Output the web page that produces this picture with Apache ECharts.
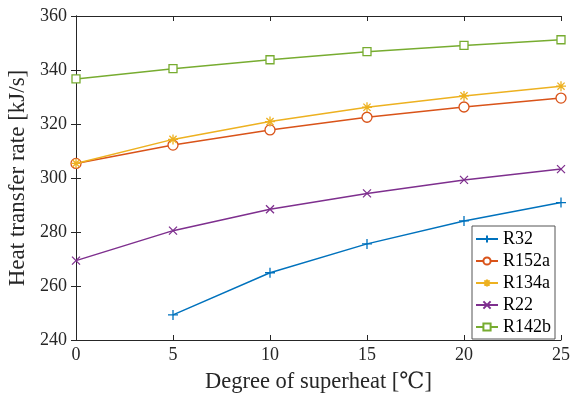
<!DOCTYPE html>
<html>
<head>
<meta charset="utf-8">
<script src="https://cdn.jsdelivr.net/npm/echarts@6/dist/echarts.min.js"></script>
<style>
  html, body { margin: 0; padding: 0; background: #fff; }
  #chart { width: 581px; height: 398px; }
</style>
</head>
<body>
<div id="chart"></div>
<script>
// Superheat degrees (x values)
const superheat = [0, 5, 10, 15, 20, 25];

// Heat transfer rate per refrigerant [kJ/s]; null where no point exists
const r32   = [null, 249.3, 264.9, 275.6, 284.1, 290.9];
const r152a = [305.4, 312.2, 317.8, 322.5, 326.3, 329.6];
const r134a = [305.4, 314.3, 320.9, 326.2, 330.4, 334.0];
const r22   = [269.4, 280.5, 288.4, 294.3, 299.3, 303.3];
const r142b = [336.7, 340.5, 343.8, 346.8, 349.1, 351.2];

const seriesNames = ['R32', 'R152a', 'R134a', 'R22', 'R142b'];
const seriesValues = [r32, r152a, r134a, r22, r142b];
const seriesColors = ['#0072BD', '#D95319', '#EDB120', '#7E2F8E', '#77AC30'];

// Stroke-only marker shapes
const markers = [
  'path://M0,-5L0,5M-5,0L5,0',
  'circle',
  'path://M0,-5L0,5M-5,0L5,0M-3.6,-3.6L3.6,3.6M-3.6,3.6L3.6,-3.6',
  'path://M-4,-4L4,4M-4,4L4,-4',
  'rect'
];
const markerSizes = [10, 10, 10, 8, 8];

const serif = '"Liberation Serif", "DejaVu Serif", serif';
const ink = '#262626';

function pairs(vals) {
  const out = [];
  vals.forEach((v, i) => { if (v !== null) out.push([superheat[i], v]); });
  return out;
}

const series = seriesNames.map((name, k) => ({
  name: name,
  type: 'line',
  data: pairs(seriesValues[k]),
  symbol: markers[k],
  symbolSize: markerSizes[k],
  showAllSymbol: true,
  lineStyle: { color: seriesColors[k], width: 1.5 },
  itemStyle: { color: '#fff', borderColor: seriesColors[k], borderWidth: 1.3, opacity: 1 },
  emphasis: { disabled: true },
  z: 5 + k
}));

const chart = echarts.init(document.getElementById('chart'), null, { renderer: 'canvas' });
chart.setOption({
  animation: false,
  backgroundColor: '#fff',
  textStyle: { fontFamily: serif },
  grid: { left: 76, right: 20, top: 16, bottom: 58, containLabel: false, outerBoundsMode: 'none' },
  legend: {
    orient: 'vertical',
    left: 472,
    top: 226,
    padding: [4, 4, 3, 3],
    itemWidth: 22,
    itemHeight: 9,
    itemGap: 4,
    backgroundColor: '#fff',
    borderColor: '#555',
    borderWidth: 1,
    textStyle: { fontFamily: serif, fontSize: 18, color: '#000' },
    data: seriesNames
  },
  xAxis: [
    {
      type: 'value', min: 0, max: 25, interval: 5,
      name: 'Degree of superheat [\u2103]',
      nameLocation: 'middle', nameGap: 31,
      nameTextStyle: { fontFamily: serif, fontSize: 22.5, color: ink },
      axisLine: { lineStyle: { color: ink, width: 1 } },
      axisTick: { inside: true, length: 5, lineStyle: { color: ink } },
      axisLabel: { fontFamily: serif, fontSize: 18, color: ink, margin: 6 },
      splitLine: { show: false }
    },
    {
      type: 'value', min: 0, max: 25, interval: 5, position: 'top',
      axisLine: { show: true, lineStyle: { color: ink, width: 1 } },
      axisTick: { inside: true, length: 5, lineStyle: { color: ink } },
      axisLabel: { show: false },
      splitLine: { show: false }
    }
  ],
  yAxis: [
    {
      type: 'value', min: 240, max: 360, interval: 20,
      name: 'Heat transfer rate [kJ/s]',
      nameLocation: 'middle', nameGap: 42,
      nameTextStyle: { fontFamily: serif, fontSize: 23, color: ink },
      axisLine: { show: true, lineStyle: { color: ink, width: 1 } },
      axisTick: { show: true, inside: true, length: 5, lineStyle: { color: ink } },
      axisLabel: { fontFamily: serif, fontSize: 18, color: ink, margin: 9 },
      splitLine: { show: false }
    },
    {
      type: 'value', min: 240, max: 360, interval: 20, position: 'right',
      axisLine: { show: true, lineStyle: { color: ink, width: 1 } },
      axisTick: { show: true, inside: true, length: 5, lineStyle: { color: ink } },
      axisLabel: { show: false },
      splitLine: { show: false }
    }
  ],
  series: series
});
</script>
</body>
</html>
